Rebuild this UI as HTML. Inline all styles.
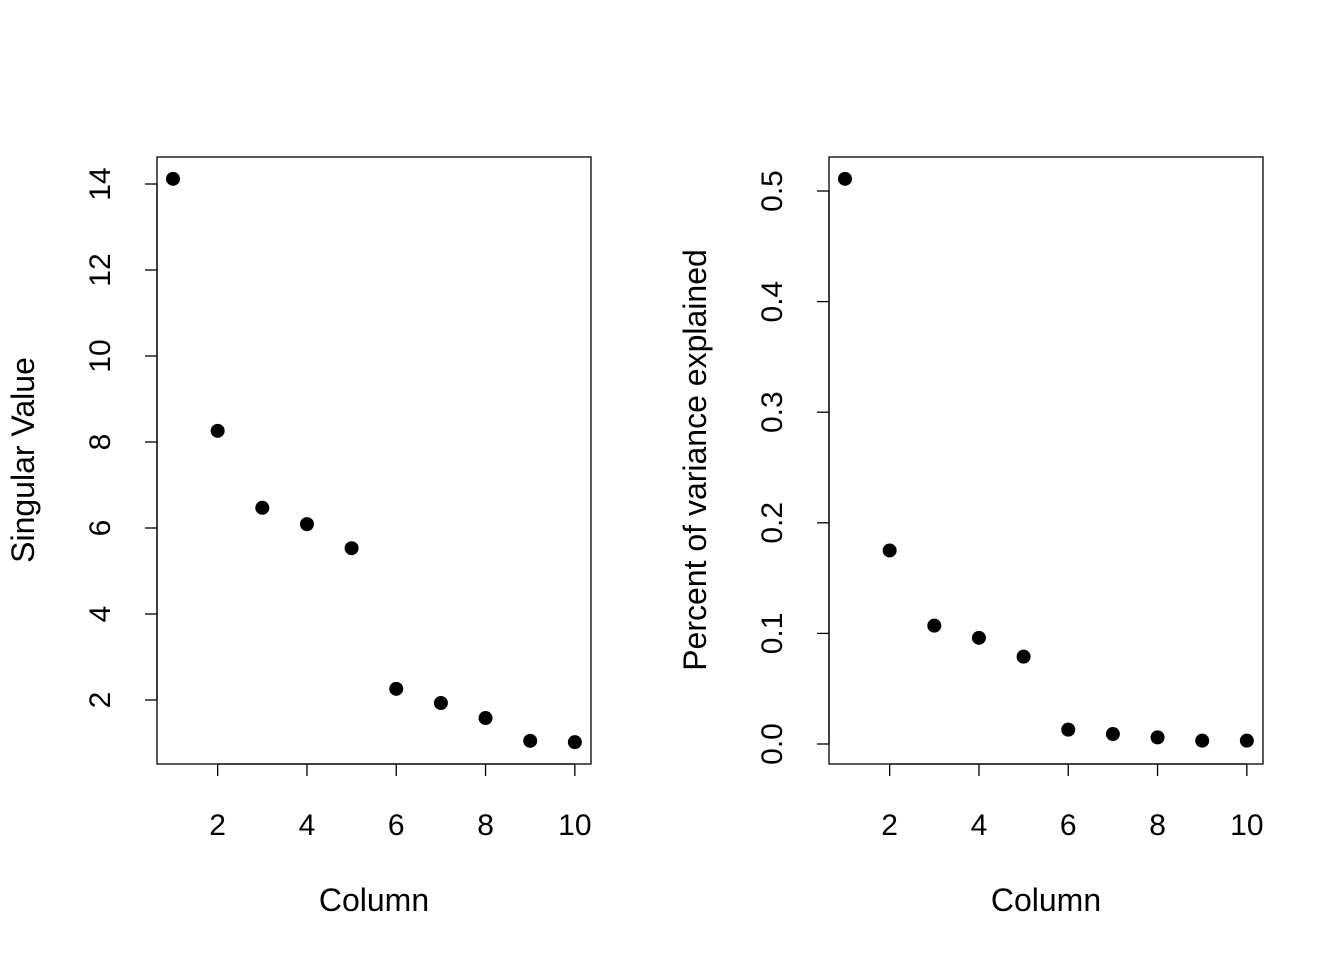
<!DOCTYPE html>
<html><head><meta charset="utf-8"><style>
body{margin:0;background:#fff}
svg text{font-family:"Liberation Sans",Arial,sans-serif;font-size:30px;fill:#000}
svg text.title{font-size:32px}
</style></head><body>
<svg id="c" width="1344" height="960"></svg>
<script>
const columns=[1,2,3,4,5,6,7,8,9,10];
const singularValues=[14.12,8.26,6.47,6.09,5.53,2.26,1.93,1.58,1.05,1.02];
const varianceExplained=[0.511,0.175,0.107,0.096,0.079,0.013,0.009,0.006,0.003,0.003];
const xTicks=[2,4,6,8,10];
const yTicksLeft=[2,4,6,8,10,12,14];
const yTicksLeftLabels=["2","4","6","8","10","12","14"];
const yTicksRight=[0,0.1,0.2,0.3,0.4,0.5];
const yTicksRightLabels=["0.0","0.1","0.2","0.3","0.4","0.5"];
const NS="http://www.w3.org/2000/svg";
const svg=document.getElementById('c');
function mk(t,a,p){const e=document.createElementNS(NS,t);for(const k in a)e.setAttribute(k,a[k]);(p||svg).appendChild(e);return e;}
function panel(name,left,xs,ys,yt,ytl,ymap,ylabel){
  const g=mk('g',{});
  
  
  const top=157,bot=764;
  const xmap=v=>left+16+(v-1)*44.65;
  const box=mk('rect',{x:left,y:top,width:434,height:607,fill:'none',stroke:'#000','stroke-width':1.3},g);
  
  
  mk('line',{x1:xmap(xTicks[0]),x2:xmap(xTicks[xTicks.length-1]),y1:bot,y2:bot,stroke:'#000','stroke-width':1.3},g);
  xTicks.forEach(v=>{
    mk('line',{x1:xmap(v),x2:xmap(v),y1:bot,y2:bot+12,stroke:'#000','stroke-width':1.3},g);
    const t=mk('text',{x:xmap(v),y:835,'text-anchor':'middle'},g);t.textContent=v;
    
    
  });
  mk('line',{x1:left,x2:left,y1:ymap(yt[0]),y2:ymap(yt[yt.length-1]),stroke:'#000','stroke-width':1.3},g);
  yt.forEach((v,i)=>{
    const y=ymap(v);
    mk('line',{x1:left-12,x2:left,y1:y,y2:y,stroke:'#000','stroke-width':1.3},g);
    const t=mk('text',{x:0,y:0,'text-anchor':'middle',transform:`translate(${left-47},${y}) rotate(-90)`},g);t.textContent=ytl[i];
    
    
  });
  const xl=mk('text',{x:left+217,y:911,'text-anchor':'middle','class':'title'},g);xl.textContent='Column';
  
  
  const yl=mk('text',{x:0,y:0,'text-anchor':'middle','class':'title',transform:`translate(${left-123},${460}) rotate(-90)`},g);yl.textContent=ylabel;
  
  
  xs.forEach((x,i)=>{
    const c=mk('circle',{cx:xmap(x),cy:ymap(ys[i]),r:7,fill:'#000'},g);
    
    
  });
}
panel('left-panel',157,columns,singularValues,yTicksLeft,yTicksLeftLabels,v=>700-(v-2)*43,'Singular Value');
panel('right-panel',829,columns,varianceExplained,yTicksRight,yTicksRightLabels,v=>744-v*1106,'Percent of variance explained');
</script>
</body></html>
